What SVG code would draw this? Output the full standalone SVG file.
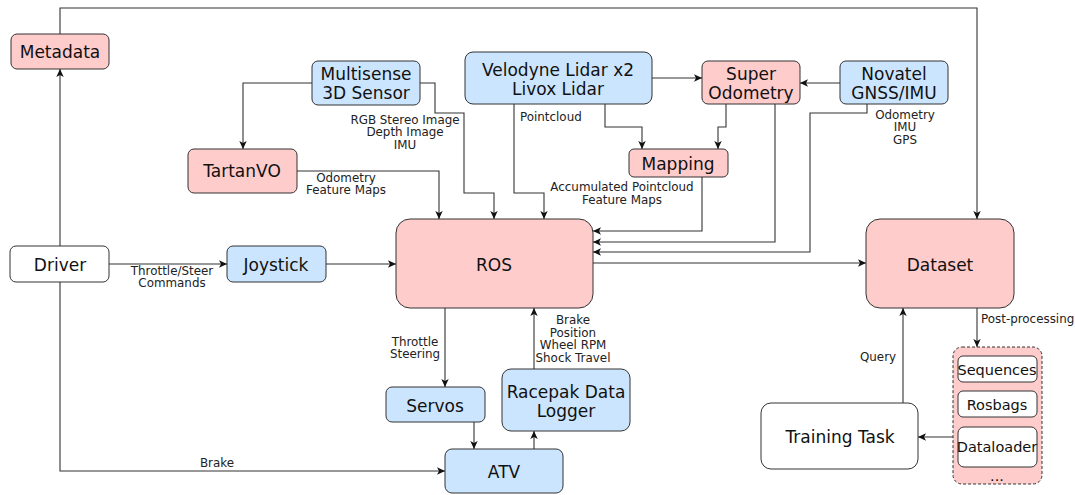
<svg xmlns="http://www.w3.org/2000/svg" width="1075" height="495" viewBox="0 0 1075 495">
<style>
.n{stroke:#333;stroke-width:1}
.p{fill:#ffcccc}
.b{fill:#cce5ff}
.w{fill:#fff}
.t{font-family:"DejaVu Sans",sans-serif;font-size:17px;fill:#111;text-anchor:middle;dominant-baseline:central}
.s{font-family:"DejaVu Sans",sans-serif;font-size:14.5px;fill:#111;text-anchor:middle;dominant-baseline:central}
.l{font-family:"DejaVu Sans",sans-serif;font-size:11.9px;fill:#222;text-anchor:middle;dominant-baseline:central}
.c path{fill:none;stroke:#333;stroke-width:1.1;marker-end:url(#a)}
</style>
<defs>
<marker id="a" markerWidth="10" markerHeight="10" refX="9" refY="5" orient="auto" markerUnits="userSpaceOnUse"><path d="M1,1.3 L9,5 L1,8.7 L3,5 z" fill="#111"/></marker>
</defs>
<rect width="1075" height="495" fill="#fff"/>
<g class="c" id="connectors">
<path d="M60,34 V8 H977 V219"/>
<path d="M60,246 V69"/>
<path d="M60,282 V471 H445"/>
<path d="M109,264 H227"/>
<path d="M326,264 H396"/>
<path d="M593,263 H866"/>
<path d="M312,83 H243 V149"/>
<path d="M297,171 H439 V219"/>
<path d="M420,83 H435 V113 H464 V193 H494 V219"/>
<path d="M514,104 V193 H544 V219"/>
<path d="M652,78 H702"/>
<path d="M840,83 H800"/>
<path d="M605,104 V127 H642 V149"/>
<path d="M726,104 V127 H718 V149"/>
<path d="M702,177 V231 H593"/>
<path d="M775,104 V242 H593"/>
<path d="M867,104 V113 H810 V252 H593"/>
<path d="M445,308 V387"/>
<path d="M474,422 V449"/>
<path d="M534,449 V431"/>
<path d="M534,369 V308"/>
<path d="M977,308 V347"/>
<path d="M903,403 V308"/>
<path d="M953,437 H918"/>
</g>
<g id="edge-labels">
<text class="l" x="172" y="271">Throttle/Steer</text>
<text class="l" x="172" y="283">Commands</text>
<text class="l" x="405" y="120">RGB Stereo Image</text>
<text class="l" x="405" y="132">Depth Image</text>
<text class="l" x="405" y="145">IMU</text>
<text class="l" x="346" y="178">Odometry</text>
<text class="l" x="346" y="190">Feature Maps</text>
<text class="l" x="520" y="117" style="text-anchor:start">Pointcloud</text>
<text class="l" x="622" y="187">Accumulated Pointcloud</text>
<text class="l" x="622" y="200">Feature Maps</text>
<text class="l" x="905" y="115">Odometry</text>
<text class="l" x="905" y="127">IMU</text>
<text class="l" x="905" y="140">GPS</text>
<text class="l" x="415" y="342">Throttle</text>
<text class="l" x="415" y="354">Steering</text>
<text class="l" x="573" y="320">Brake</text>
<text class="l" x="573" y="333">Position</text>
<text class="l" x="573" y="345">Wheel RPM</text>
<text class="l" x="573" y="358">Shock Travel</text>
<text class="l" x="217" y="463">Brake</text>
<text class="l" x="981" y="319" style="text-anchor:start">Post-processing</text>
<text class="l" x="878" y="357">Query</text>
</g>
<g id="metadata"><rect class="n p" x="11" y="34" width="98" height="35" rx="6"/><text class="t" x="60" y="52">Metadata</text></g>
<g id="multisense"><rect class="n b" x="312" y="61" width="108" height="44" rx="6"/><text class="t" x="366" y="74">Multisense</text><text class="t" x="366" y="93">3D Sensor</text></g>
<g id="velodyne"><rect class="n b" x="465" y="52" width="187" height="52" rx="8"/><text class="t" x="558" y="70">Velodyne Lidar x2</text><text class="t" x="558" y="89">Livox Lidar</text></g>
<g id="superodometry"><rect class="n p" x="702" y="61" width="98" height="43" rx="6"/><text class="t" x="751" y="74">Super</text><text class="t" x="751" y="93">Odometry</text></g>
<g id="novatel"><rect class="n b" x="840" y="61" width="108" height="43" rx="6"/><text class="t" x="894" y="74">Novatel</text><text class="t" x="894" y="93">GNSS/IMU</text></g>
<g id="mapping"><rect class="n p" x="629" y="149" width="99" height="28" rx="5"/><text class="t" x="678" y="164">Mapping</text></g>
<g id="tartanvo"><rect class="n p" x="188" y="149" width="109" height="44" rx="6"/><text class="t" x="242" y="171">TartanVO</text></g>
<g id="driver"><rect class="n w" x="10" y="246" width="99" height="36" rx="6"/><text class="t" x="60" y="265">Driver</text></g>
<g id="joystick"><rect class="n b" x="227" y="246" width="99" height="36" rx="6"/><text class="t" x="276" y="265">Joystick</text></g>
<g id="ros"><rect class="n p" x="396" y="219" width="197" height="89" rx="14"/><text class="t" x="494" y="265">ROS</text></g>
<g id="dataset"><rect class="n p" x="866" y="219" width="148" height="89" rx="14"/><text class="t" x="940" y="265">Dataset</text></g>
<g id="servos"><rect class="n b" x="386" y="387" width="99" height="35" rx="6"/><text class="t" x="435" y="406">Servos</text></g>
<g id="racepak"><rect class="n b" x="502" y="369" width="128" height="62" rx="9"/><text class="t" x="566" y="392">Racepak Data</text><text class="t" x="566" y="411">Logger</text></g>
<g id="atv"><rect class="n b" x="445" y="449" width="118" height="44" rx="7"/><text class="t" x="504" y="472">ATV</text></g>
<g id="training"><rect class="n w" x="761" y="403" width="157" height="66" rx="10"/><text class="t" x="840" y="437">Training Task</text></g>
<g id="postprocessed">
<rect class="p" x="953" y="347" width="89" height="137" rx="9" stroke="#333" stroke-width="1" stroke-dasharray="3,2"/>
<rect class="n w" x="958" y="356" width="79" height="26" rx="5"/><text class="s" x="997" y="370">Sequences</text>
<rect class="n w" x="958" y="391" width="79" height="26" rx="5"/><text class="s" x="997" y="405">Rosbags</text>
<rect class="n w" x="958" y="427" width="79" height="40" rx="6"/><text class="s" x="997" y="447">Dataloader</text>
<text class="s" x="997" y="476">...</text>
</g>
</svg>
